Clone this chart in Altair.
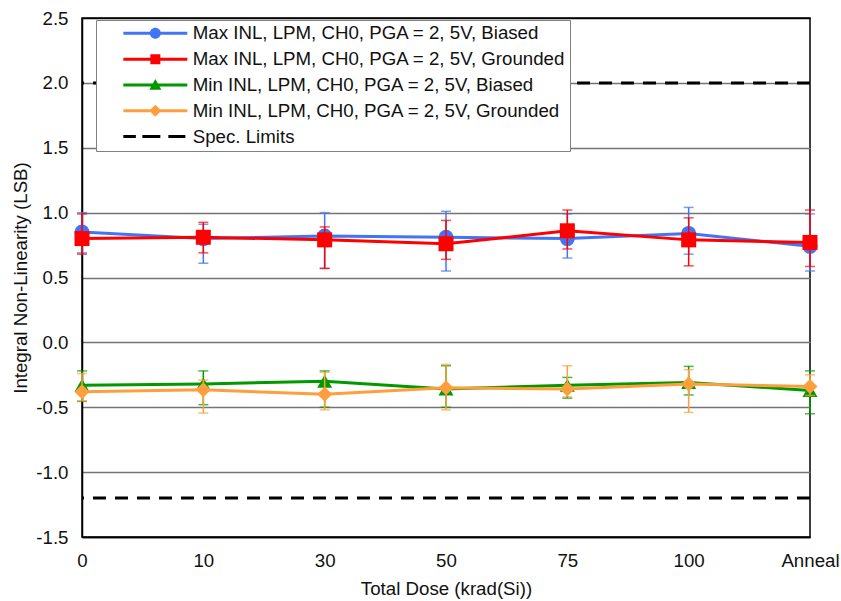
import altair as alt
import pandas as pd

doses = ["0", "10", "30", "50", "75", "100", "Anneal"]

names = [
    "Max INL, LPM, CH0, PGA = 2, 5V, Biased",
    "Max INL, LPM, CH0, PGA = 2, 5V, Grounded",
    "Min INL, LPM, CH0, PGA = 2, 5V, Biased",
    "Min INL, LPM, CH0, PGA = 2, 5V, Grounded",
]
spec_name = "Spec. Limits"

max_biased = [0.85, 0.80, 0.82, 0.81, 0.80, 0.84, 0.74]
max_biased_hi = [1.00, 0.91, 1.00, 1.01, 0.99, 1.04, 0.99]
max_biased_lo = [0.69, 0.61, 0.57, 0.55, 0.65, 0.68, 0.55]

max_grounded = [0.80, 0.81, 0.79, 0.76, 0.86, 0.79, 0.77]
max_grounded_hi = [0.99, 0.925, 0.89, 0.94, 1.02, 0.96, 1.02]
max_grounded_lo = [0.68, 0.69, 0.57, 0.64, 0.72, 0.59, 0.585]

min_biased = [-0.33, -0.32, -0.30, -0.36, -0.33, -0.31, -0.37]
min_biased_hi = [-0.22, -0.22, -0.22, -0.18, -0.27, -0.185, -0.22]
min_biased_lo = [-0.455, -0.48, -0.50, -0.50, -0.43, -0.405, -0.55]

min_grounded = [-0.38, -0.365, -0.40, -0.35, -0.36, -0.32, -0.34]
min_grounded_hi = [-0.24, -0.29, -0.23, -0.17, -0.18, -0.21, -0.25]
min_grounded_lo = [-0.45, -0.545, -0.52, -0.52, -0.42, -0.54, -0.41]

spec_limits = [2.0, -1.2]

colors = ["#4275F5", "#FF0000", "#009A00", "#FF9E3D", "#000000"]
marker_shapes = ["circle", "square", "triangle-up", "diamond"]

FONT = "Liberation Sans"
FS = 18.7

# legend symbol paths (unit = 9 px for symbolSize 324)
u = 9.0
def rect(x0, x1, h):
    return f"M{x0/u:.3f},{-h/u:.3f}L{x1/u:.3f},{-h/u:.3f}L{x1/u:.3f},{h/u:.3f}L{x0/u:.3f},{h/u:.3f}Z"

line_part = rect(-32, 32, 1.5)
r = 5.5 / u
circle_p = f"M{r:.3f},0A{r:.3f},{r:.3f} 0 1,1 {-r:.3f},0A{r:.3f},{r:.3f} 0 1,1 {r:.3f},0Z"
s = 5.0 / u
square_p = f"M{-s:.3f},{-s:.3f}L{s:.3f},{-s:.3f}L{s:.3f},{s:.3f}L{-s:.3f},{s:.3f}Z"
t = 6.0 / u
tri_p = f"M0,{-t:.3f}L{t:.3f},{0.8*t:.3f}L{-t:.3f},{0.8*t:.3f}Z"
d = 6.0 / u
dia_p = f"M0,{-d:.3f}L{d:.3f},0L0,{d:.3f}L{-d:.3f},0Z"
dash_p = rect(-32, -19.5, 1.5) + rect(-13, 5, 1.5) + rect(13, 30, 1.5)
legend_paths = [line_part + circle_p, line_part + square_p, line_part + tri_p,
                line_part + dia_p, dash_p]

legend_labels = names + [spec_name]

color_scale = alt.Scale(domain=legend_labels, range=colors)

x_enc = alt.X(
    "dose:N",
    sort=doses,
    scale=alt.Scale(type="point", padding=0, domain=doses),
    axis=alt.Axis(
        title="Total Dose (krad(Si))",
        labelAngle=0,
        labelFontSize=FS,
        labelFont=FONT,
        labelColor="#111111",
        labelPadding=14,
        ticks=False,
        tickSize=0,
        domainColor="black",
        domainWidth=1.5,
        gridColor={"condition": {"test": "datum.value === 'Anneal' || datum.value === '0'",
                                 "value": "black"}, "value": "#747474"},
        gridWidth=1.5,
        titleFontSize=FS,
        titleFont=FONT,
        titleFontWeight="normal",
        titleColor="#111111",
        titlePadding=10,
    ),
)

y_axis = alt.Axis(
    title="Integral Non-Linearity (LSB)",
    values=[-1.5, -1.0, -0.5, 0.0, 0.5, 1.0, 1.5, 2.0, 2.5],
    labelExpr="datum.value < 0 ? '-' + format(abs(datum.value), '.1f') : format(datum.value, '.1f')",
    labelFontSize=FS,
    labelFont=FONT,
    labelColor="#111111",
    labelPadding=14,
    ticks=False,
    tickSize=0,
    domainColor="black",
    domainWidth=1.5,
    gridColor={"condition": {"test": "datum.value === 2.5 || datum.value === -1.5",
                             "value": "black"}, "value": "#747474"},
    gridWidth=1.5,
    titleFontSize=FS,
    titleFont=FONT,
    titleFontWeight="normal",
    titleColor="#111111",
    titlePadding=5,
)
y_scale = alt.Scale(domain=[-1.5, 2.5], nice=False, zero=False)

def y_enc(field):
    return alt.Y(f"{field}:Q", scale=y_scale, axis=y_axis)

legend_props = dict(
    title=None,
    orient="none",
    legendX=14,
    legendY=2,
    padding=4,
    fillColor="white",
    strokeColor="#808080",
    labelFontSize=FS,
    labelFont=FONT,
    labelColor="#111111",
    labelLimit=0,
    symbolSize=324,
    symbolStrokeWidth=0,
    symbolOpacity=1,
    symbolOffset=46,
    labelOffset=28,
    rowPadding=5.8,
)

layers = []

# invisible layer that carries the legend (first, so its legend settings win)
leg_df = pd.DataFrame({"series": legend_labels})
legend_layer = alt.Chart(leg_df).mark_point(filled=True, opacity=0).encode(
    color=alt.Color("series:N", scale=color_scale, legend=alt.Legend(**legend_props)),
    shape=alt.Shape(
        "series:N",
        scale=alt.Scale(domain=legend_labels, range=legend_paths),
        legend=alt.Legend(**legend_props),
    ),
)
layers.append(legend_layer)

spec_df = pd.DataFrame({"v": spec_limits})
layers.append(
    alt.Chart(spec_df).mark_rule(color="black", strokeWidth=3, strokeDash=[13, 9]).encode(
        y=y_enc("v")
    )
)

series_data = [
    (max_biased, max_biased_lo, max_biased_hi),
    (max_grounded, max_grounded_lo, max_grounded_hi),
    (min_biased, min_biased_lo, min_biased_hi),
    (min_grounded, min_grounded_lo, min_grounded_hi),
]

for i, (vals, lo, hi) in enumerate(series_data):
    df = pd.DataFrame({"dose": doses, "v": vals, "lo": lo, "hi": hi, "series": names[i]})
    c = alt.Color("series:N", scale=color_scale, legend=None)
    base = alt.Chart(df)
    layers.append(base.mark_rule(strokeWidth=1.5).encode(x=x_enc, y=y_enc("lo"), y2="hi:Q", color=c))
    layers.append(base.mark_tick(size=10, thickness=1.5, orient="horizontal").encode(
        x=x_enc, y=y_enc("lo"), color=c))
    layers.append(base.mark_tick(size=10, thickness=1.5, orient="horizontal").encode(
        x=x_enc, y=y_enc("hi"), color=c))
    layers.append(base.mark_line(strokeWidth=3).encode(x=x_enc, y=y_enc("v"), color=c))
    layers.append(base.mark_point(shape=marker_shapes[i], filled=True, size=225, opacity=1).encode(
        x=x_enc, y=y_enc("v"), color=c))

chart = alt.layer(*layers).properties(
    width=728,
    height=519,
    autosize=alt.AutoSizeParams(type="none"),
    padding={"left": 82, "top": 18, "right": 31, "bottom": 64},
    background="white",
).configure_view(stroke="black", strokeWidth=1.5)

chart.save("out.html", embed_options={"renderer": "svg", "actions": False})
